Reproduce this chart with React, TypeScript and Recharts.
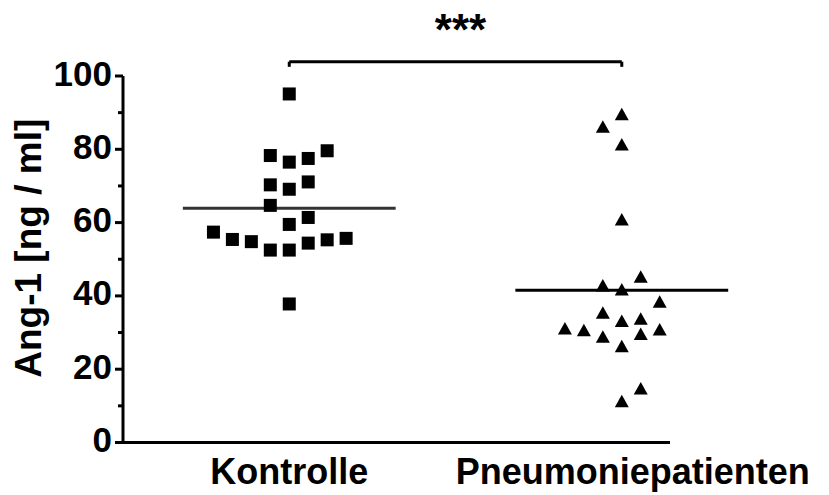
import { ScatterChart, Scatter, XAxis, YAxis, ReferenceLine, Label } from 'recharts';

const groups = ['Kontrolle', 'Pneumoniepatienten'];

const kontrolleValues = [95.1, 78.3, 76.5, 77.5, 79.6, 70.3, 69.1, 71.1, 64.7, 59.5, 61.4, 57.4, 55.4, 54.8, 52.5, 52.5, 54.4, 55.3, 55.7, 37.8];
// Spalte im Streudiagramm (seitlicher Versatz, in Punktbreiten)
const kontrolleSlots = [0, -1, 0, 1, 2, -1, 0, 1, -1, 0, 1, -4, -3, -2, -1, 0, 1, 2, 3, 0];

const pneumonieValues = [89.4, 86.0, 81.2, 60.7, 45.1, 42.7, 41.6, 38.3, 35.3, 33.0, 33.6, 31.0, 30.5, 28.7, 29.5, 30.7, 26.1, 14.6, 11.1];
const pneumonieSlots = [0, -1, 0, 0, 1, -1, 0, 2, -1, 0, 1, -3, -2, -1, 1, 2, 0, 1, 0];

const yTicks = [0, 10, 20, 30, 40, 50, 60, 70, 80, 90, 100];
const significance = '***';

const FONT = '"Liberation Sans", Arial, Helvetica, sans-serif';
const SLOT = 0.057;
const MEAN_HALF = 0.32;
const BRACKET_Y = 103.9;
const BRACKET_TICK = 102.5;

const toPoints = (values: number[], slots: number[], pos: number) =>
  values.map((v, i) => ({ x: pos + slots[i] * SLOT, y: v }));

const mean = (arr: number[]) => arr.reduce((a, b) => a + b, 0) / arr.length;

const kontrolleData = toPoints(kontrolleValues, kontrolleSlots, 1);
const pneumonieData = toPoints(pneumonieValues, pneumonieSlots, 2);
const kontrolleMean = mean(kontrolleValues);
const pneumonieMean = mean(pneumonieValues);

const SquareDot = (props: any) => (
  <rect x={props.cx - 6.5} y={props.cy - 6.5} width={13} height={13} fill="#000" />
);

const TriangleDot = (props: any) => {
  const { cx, cy } = props;
  return <polygon points={`${cx},${cy - 7} ${cx - 7},${cy + 5.5} ${cx + 7},${cy + 5.5}`} fill="#000" />;
};

const YTick = ({ x, y, payload }: any) => {
  const major = payload.value % 20 === 0;
  return (
    <g>
      <line x1={x - (major ? 8 : 5)} x2={x} y1={y} y2={y} stroke="#000" strokeWidth={3} />
      {major && (
        <text x={x - 11} y={y + 9.5} textAnchor="end" fontFamily={FONT} fontWeight="bold" fontSize={35} fill="#000">
          {payload.value}
        </text>
      )}
    </g>
  );
};

const XTick = ({ x, y, payload }: any) => (
  <text
    x={x + (payload.value === 2 ? 11 : 0)}
    y={y + 41}
    textAnchor="middle"
    fontFamily={FONT}
    fontWeight="bold"
    fontSize={36}
    fill="#000"
  >
    {groups[payload.value - 1]}
  </text>
);

export default function App() {
  return (
    <div style={{ position: 'absolute', left: 0, top: 0, width: 829, height: 495, background: '#fff' }}>
      <ScatterChart width={829} height={495} margin={{ top: 76, right: 159, bottom: 2.5, left: 23 }}>
        <XAxis
          dataKey="x"
          type="number"
          domain={[0.5, 2.145]}
          ticks={[1, 2]}
          allowDataOverflow
          height={50}
          tickSize={0}
          tickMargin={0}
          tickLine={false}
          axisLine={{ stroke: '#000', strokeWidth: 3 }}
          tick={<XTick />}
        />
        <YAxis
          dataKey="y"
          type="number"
          domain={[0, 100]}
          ticks={yTicks}
          interval={0}
          width={100}
          tickSize={0}
          tickMargin={0}
          tickLine={false}
          axisLine={{ stroke: '#000', strokeWidth: 3 }}
          tick={<YTick />}
        >
          <Label
            content={({ viewBox }: any) => (
              <text
                x={viewBox.x + 18}
                y={viewBox.y + viewBox.height / 2 - 11}
                transform={`rotate(-90, ${viewBox.x + 18}, ${viewBox.y + viewBox.height / 2 - 11})`}
                textAnchor="middle"
                fontFamily={FONT}
                fontWeight="bold"
                fontSize={37}
                fill="#000"
              >
                Ang-1 [ng / ml]
              </text>
            )}
          />
        </YAxis>

        <ReferenceLine
          segment={[{ x: 1 - MEAN_HALF, y: kontrolleMean }, { x: 1 + MEAN_HALF, y: kontrolleMean }]}
          stroke="#333"
          strokeWidth={3}
          ifOverflow="visible"
        />
        <ReferenceLine
          segment={[{ x: 2 - MEAN_HALF, y: pneumonieMean }, { x: 2 + MEAN_HALF, y: pneumonieMean }]}
          stroke="#000"
          strokeWidth={3}
          ifOverflow="visible"
        />

        {/* Signifikanzklammer */}
        <ReferenceLine
          segment={[{ x: 1, y: BRACKET_Y }, { x: 2, y: BRACKET_Y }]}
          stroke="#000"
          strokeWidth={3}
          ifOverflow="visible"
          label={({ viewBox }: any) => (
            <text
              x={viewBox.x + viewBox.width / 2 + 5}
              y={viewBox.y - 17}
              textAnchor="middle"
              fontFamily={FONT}
              fontWeight="bold"
              fontSize={44}
              fill="#000"
            >
              {significance}
            </text>
          )}
        />
        <ReferenceLine
          segment={[{ x: 1, y: BRACKET_Y }, { x: 1, y: BRACKET_TICK }]}
          stroke="#000"
          strokeWidth={3}
          ifOverflow="visible"
        />
        <ReferenceLine
          segment={[{ x: 2, y: BRACKET_Y }, { x: 2, y: BRACKET_TICK }]}
          stroke="#000"
          strokeWidth={3}
          ifOverflow="visible"
        />

        <Scatter data={kontrolleData} shape={SquareDot} isAnimationActive={false} />
        <Scatter data={pneumonieData} shape={TriangleDot} isAnimationActive={false} />
      </ScatterChart>
    </div>
  );
}
